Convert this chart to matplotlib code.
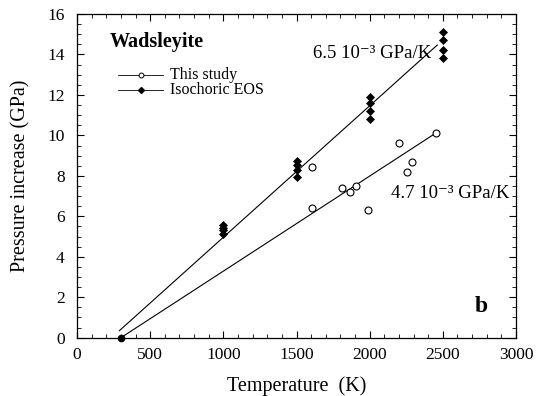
import matplotlib
matplotlib.use("Agg")
import matplotlib.pyplot as plt
import numpy as np
from matplotlib.lines import Line2D
from matplotlib.ticker import MultipleLocator

# Data
study_T = [1608, 1608, 1809, 1866, 1907, 1987, 2203, 2256, 2288, 2452]
study_P = [8.45, 6.43, 7.41, 7.22, 7.51, 6.31, 9.64, 8.21, 8.70, 10.12]
eos_T = [1000, 1000, 1000, 1000, 1500, 1500, 1500, 1500,
         2000, 2000, 2000, 2000, 2500, 2500, 2500, 2500]
eos_P = [5.15, 5.30, 5.43, 5.55, 7.96, 8.29, 8.54, 8.73,
         10.81, 11.21, 11.59, 11.88, 13.81, 14.22, 14.70, 15.10]
ref_T = [300]
ref_P = [0.0]
# fitted lines (start T, start P, slope GPa/K, end T)
eos_line = (290, 0.35, 6.5e-3, 2462)
study_line = (300, 0.0, 4.7e-3, 2450)
legend_labels = ['This study', 'Isochoric EOS']

plt.rcParams['font.family'] = ['Liberation Serif', 'DejaVu Serif']

fig = plt.figure(figsize=(5.45, 3.96), dpi=100)
ax = fig.add_axes([0.1413, 0.1472, 0.8055, 0.8174])

for (t0, p0, s, t1) in (eos_line, study_line):
    tt = np.array([t0, t1])
    ax.plot(tt, p0 + s * (tt - t0), color='black', lw=0.8)

ax.plot(eos_T, eos_P, 'D', color='black', ms=3.8, mew=0.5, ls='none')
ax.plot(study_T, study_P, 'o', mfc='white', mec='black', ms=5, mew=0.8, ls='none')
ax.plot(ref_T, ref_P, 'o', color='black', ms=4.5, clip_on=False, zorder=5)

ax.set_xlim(0, 3000)
ax.set_ylim(0, 16)
ax.xaxis.set_major_locator(MultipleLocator(500))
ax.xaxis.set_minor_locator(MultipleLocator(100))
ax.yaxis.set_major_locator(MultipleLocator(2))
ax.yaxis.set_minor_locator(MultipleLocator(0.5))
ax.tick_params(which='both', direction='in', top=True, right=True, labelsize=12.5)
ax.tick_params(which='major', length=5, width=0.8)
ax.tick_params(which='minor', length=3, width=0.6)
ax.tick_params(axis='x', pad=7)
ax.tick_params(axis='y', pad=9)
for sp in ax.spines.values():
    sp.set_linewidth(0.9)

ax.set_xlabel('Temperature  (K)', fontsize=14.5, labelpad=9)
ax.set_ylabel('Pressure increase (GPa)', fontsize=14.5, labelpad=12)

fig.text(110 / 545, 1 - 42 / 396, 'Wadsleyite', fontsize=14.5, fontweight='bold',
         ha='left', va='center')
ax.text(0.538, 0.879, '6.5 10\u207b\u00b3 GPa/K', transform=ax.transAxes, fontsize=13.5,
        ha='left', va='center')
ax.text(0.715, 0.447, '4.7 10\u207b\u00b3 GPa/K', transform=ax.transAxes, fontsize=13.5,
        ha='left', va='center')
ax.text(0.935, 0.095, 'b', transform=ax.transAxes, fontsize=17, fontweight='bold',
        ha='right', va='center')

# manual legend (figure pixel coords -> fraction)
W, H = 545.0, 396.0
rows = [(75, dict(marker='o', mfc='white', mec='black', ms=3.5, mew=0.7)),
        (90, dict(marker='D', mfc='black', mec='black', ms=3))]
for (yp, mk), lab in zip(rows, legend_labels):
    yf = 1 - yp / H
    fig.add_artist(Line2D([118 / W, 163 / W], [yf, yf], color='black', lw=0.6))
    fig.add_artist(Line2D([140.5 / W], [yf], ls='none', **mk))
    fig.text(170 / W, yf, lab, fontsize=11.5, ha='left', va='center')

fig.savefig('out.png', dpi=100)
